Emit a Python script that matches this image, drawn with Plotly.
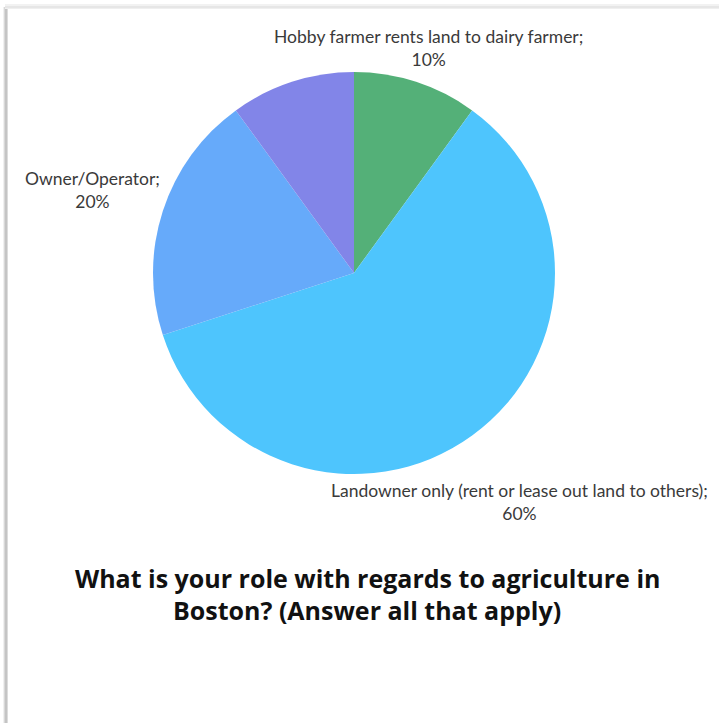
import plotly.graph_objects as go

# Survey responses: role with regards to agriculture
categories = [
    "Hobby farmer rents land to dairy farmer",
    "Landowner only (rent or lease out land to others)",
    "Owner/Operator",
    "Other",
]
shares = [10, 60, 20, 10]
show_label = [True, True, True, False]
colors = ["#54B078", "#4EC5FD", "#66AAFA", "#8285E8"]

title_lines = [
    "What is your role with regards to agriculture in",
    "Boston? (Answer all that apply)",
]

W, H = 719, 723


def px_x(x):
    return x / W


def px_y(y):
    return 1 - y / H


fig = go.Figure(
    go.Pie(
        labels=categories,
        values=shares,
        sort=False,
        direction="clockwise",
        rotation=0,
        marker=dict(colors=colors, line=dict(width=0)),
        textinfo="none",
        hoverinfo="label+percent",
        showlegend=False,
        domain=dict(x=[px_x(153), px_x(555)], y=[px_y(474), px_y(72)]),
    )
)

# label anchor points (pixel centres) for each category's callout
label_pos = {
    categories[0]: (428, 48),
    categories[1]: (519, 502),
    categories[2]: (92, 190),
}

annotations = []
for name, val, show in zip(categories, shares, show_label):
    if not show:
        continue
    cx, cy = label_pos[name]
    annotations.append(
        dict(
            x=px_x(cx), y=px_y(cy), xref="paper", yref="paper",
            text=f"{name};<br>{val}%",
            showarrow=False, xanchor="center", yanchor="middle", align="center",
            font=dict(family="Lato", size=17.5, color="#3a3a3a"),
        )
    )

for i, line in enumerate(title_lines):
    annotations.append(
        dict(
            x=px_x(367), y=px_y(578 + 32 * i), xref="paper", yref="paper",
            text=line,
            showarrow=False, xanchor="center", yanchor="middle", align="center",
            font=dict(family="Open Sans", size=25, color="#111111", weight="bold"),
        )
    )

# soft card shadow along left and top edges
shapes = []
left_band = [(3, 4, "#f0f0f0"), (4, 5, "#d8d8d8"), (5, 7, "#c4c4c4"), (7, 8, "#dcdcdc")]
for x0, x1, c in left_band:
    shapes.append(dict(type="rect", xref="paper", yref="paper",
                       x0=px_x(x0), x1=px_x(x1), y0=0, y1=px_y(7),
                       line=dict(width=0), fillcolor=c, layer="below"))
top_band = [(4, 6, "#f2f2f2"), (6, 8, "#e6e6e6"), (8, 9, "#efefef")]
for y0, y1, c in top_band:
    shapes.append(dict(type="rect", xref="paper", yref="paper",
                       x0=px_x(5), x1=1, y0=px_y(y1), y1=px_y(y0),
                       line=dict(width=0), fillcolor=c, layer="below"))

fig.update_layout(
    width=W, height=H,
    margin=dict(l=0, r=0, t=0, b=0),
    paper_bgcolor="white", plot_bgcolor="white",
    annotations=annotations, shapes=shapes,
)

fig.write_html("out.html")
